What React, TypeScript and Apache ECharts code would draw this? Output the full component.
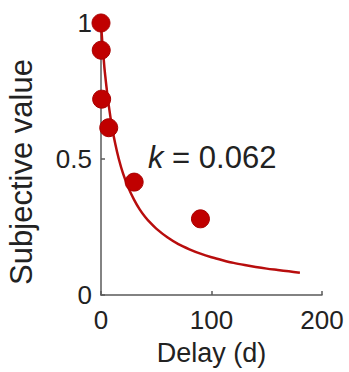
import React, { useEffect, useRef } from "react";
import * as echarts from "echarts";

const xTicks = [0, 100, 200];
const yTicks = [0, 0.5, 1];
const pointDelays = [0, 0.2, 0.6, 7, 30, 90];
const pointValues = [1, 0.9, 0.72, 0.615, 0.415, 0.28];
const curveDelays = [0, 1, 2, 3, 4, 5, 7, 10, 13, 16, 20, 25, 30, 35, 40, 45, 50, 60, 70, 80, 90, 100, 110, 120, 130, 140, 150, 160, 170, 180];
const curveValues = [1, 0.94, 0.89, 0.84, 0.8, 0.763, 0.697, 0.617, 0.554, 0.502, 0.446, 0.392, 0.35, 0.315, 0.287, 0.264, 0.244, 0.212, 0.187, 0.168, 0.152, 0.139, 0.128, 0.118, 0.11, 0.103, 0.097, 0.092, 0.087, 0.082];
const xName = "Delay (d)";
const yName = "Subjective value";
const kLabel = "0.062";

const FONT = "'Liberation Sans', Arial, sans-serif";

export default function App() {
  const ref = useRef<HTMLDivElement>(null);
  useEffect(() => {
    if (!ref.current) return;
    const chart = echarts.init(ref.current, null, { renderer: "svg" });
    const axisCommon = {
      axisLine: { show: true, lineStyle: { color: "#5a5a5a", width: 1.5 } },
      axisTick: { show: true, inside: true, length: 4, lineStyle: { color: "#5a5a5a", width: 1.5 } },
      splitLine: { show: false },
    };
    chart.setOption({
      animation: false,
      backgroundColor: "#ffffff",
      grid: { left: 101, top: 23, right: 27, bottom: 77, containLabel: false },
      xAxis: {
        type: "value",
        min: xTicks[0],
        max: xTicks[xTicks.length - 1],
        interval: 100,
        name: xName,
        nameLocation: "middle",
        nameGap: 44,
        nameTextStyle: { fontSize: 27, fontFamily: FONT, color: "#222" },
        axisLabel: { fontSize: 26, fontFamily: FONT, color: "#222", margin: 12 },
        ...axisCommon,
      },
      yAxis: {
        type: "value",
        min: yTicks[0],
        max: yTicks[yTicks.length - 1],
        interval: 0.5,
        axisLabel: { fontSize: 26, fontFamily: FONT, color: "#222", margin: 9 },
        ...axisCommon,
      },
      graphic: [
        {
          type: "text",
          x: 21,
          y: 172,
          rotation: Math.PI / 2,
          style: {
            text: yName,
            fontSize: 31,
            fontFamily: FONT,
            fill: "#222",
            align: "center",
            verticalAlign: "middle",
          },
        },
        {
          type: "text",
          x: 148,
          y: 157,
          style: {
            text: "{i|k} = " + kLabel,
            fontSize: 31,
            fontFamily: FONT,
            fill: "#222",
            align: "left",
            verticalAlign: "middle",
            rich: {
              i: { fontStyle: "italic", fontSize: 31, fontFamily: FONT, fill: "#222" },
            },
          },
        },
      ],
      series: [
        {
          type: "line",
          data: curveDelays.map((d, i) => [d, curveValues[i]]),
          smooth: 0.3,
          showSymbol: false,
          lineStyle: { color: "#b80d0d", width: 2.5 },
          z: 2,
        },
        {
          type: "scatter",
          data: pointDelays.map((d, i) => [d, pointValues[i]]),
          symbolSize: 18,
          itemStyle: { color: "#c00000", opacity: 1, borderColor: "#a80000", borderWidth: 1 },
          z: 3,
        },
      ],
    });
    return () => chart.dispose();
  }, []);
  return (
    <div
      ref={ref}
      style={{ position: "fixed", left: 0, top: 0, width: 349, height: 372 }}
    />
  );
}
